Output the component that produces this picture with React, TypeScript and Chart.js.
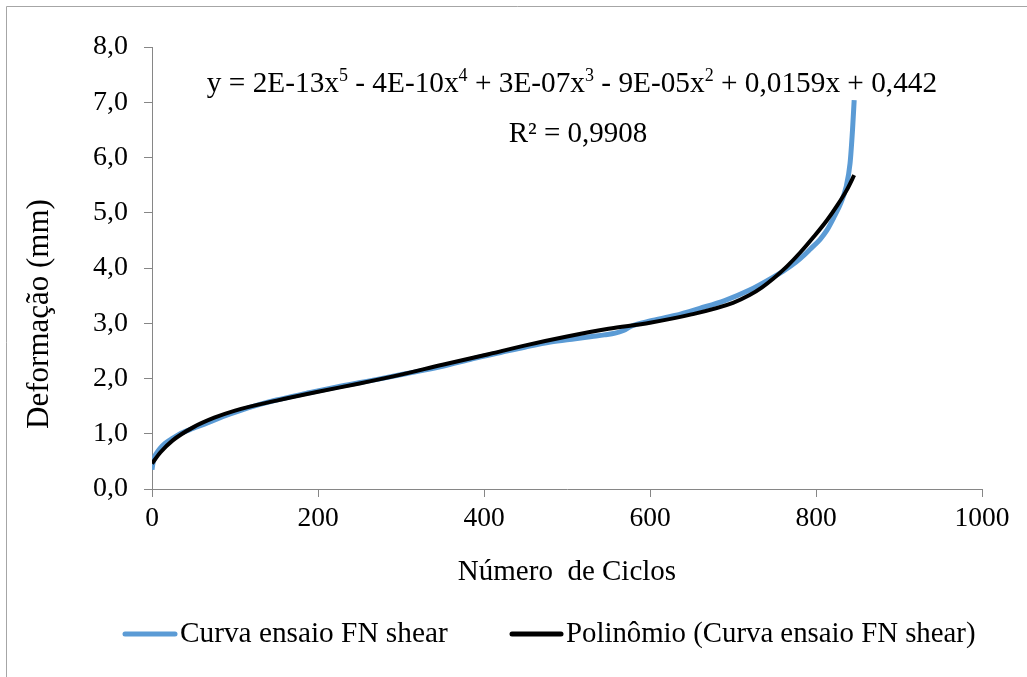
import React, { useEffect, useRef } from "react";
import { Chart, registerables } from "chart.js";

Chart.register(...registerables);

// ---- data ----
const curveCycles = [0, 1, 3, 6, 10, 16, 25, 35, 50, 66, 85, 106, 130, 150, 186, 227, 270, 307, 350, 387, 420, 450, 480, 510, 530, 545, 558, 568, 578, 600, 630, 660, 690, 720, 748, 760, 770, 781, 793, 805, 813, 821, 830, 836, 841, 844, 846];
const curveDeform = [0.35, 0.45, 0.58, 0.66, 0.74, 0.83, 0.92, 1.01, 1.10, 1.19, 1.31, 1.42, 1.53, 1.61, 1.73, 1.86, 1.98, 2.09, 2.22, 2.36, 2.47, 2.57, 2.66, 2.72, 2.76, 2.79, 2.82, 2.87, 2.95, 3.04, 3.14, 3.27, 3.41, 3.60, 3.83, 3.94, 4.04, 4.17, 4.34, 4.52, 4.68, 4.9, 5.18, 5.45, 5.89, 6.5, 7.04];

const polyCycles = [0, 10, 25, 50, 75, 100, 150, 200, 250, 300, 350, 400, 450, 500, 550, 600, 650, 700, 720, 735, 748, 765, 781, 797, 813, 825, 837, 846];
const polyDeform = [0.46, 0.66, 0.88, 1.12, 1.29, 1.42, 1.6, 1.76, 1.91, 2.07, 2.25, 2.42, 2.6, 2.76, 2.9, 3.01, 3.16, 3.37, 3.51, 3.65, 3.8, 4.03, 4.28, 4.56, 4.86, 5.12, 5.41, 5.68];

const xTickLabels = ["0", "200", "400", "600", "800", "1000"];
const seriesLabels = ["Curva ensaio FN shear", "Polinômio (Curva ensaio FN shear)"];
const seriesColors = ["#5B9BD5", "#000000"];
const xTitle = "Número  de Ciclos";
const yTitle = "Deformação (mm)";
const equationParts: [string, boolean][] = [
  ["y = 2E-13x", false], ["5", true], [" - 4E-10x", false], ["4", true],
  [" + 3E-07x", false], ["3", true], [" - 9E-05x", false], ["2", true],
  [" + 0,0159x + 0,442", false],
];
const r2Text = "R² = 0,9908";

const FONT = "'Liberation Serif', 'Times New Roman', serif";

const overlayPlugin = {
  id: "overlay",
  beforeDraw(chart: any) {
    const ctx = chart.ctx;
    ctx.save();
    ctx.strokeStyle = "#a6a6a6";
    ctx.lineWidth = 1;
    ctx.beginPath();
    ctx.moveTo(6.5, 2000);
    ctx.lineTo(6.5, 6.5);
    ctx.lineTo(2000, 6.5);
    ctx.stroke();
    ctx.restore();
  },
  afterDraw(chart: any) {
    const ctx = chart.ctx;
    ctx.save();
    ctx.fillStyle = "#000";
    ctx.textBaseline = "alphabetic";
    // equation
    const base = 29.3;
    const sup = 18;
    let total = 0;
    for (const [t, s] of equationParts) {
      ctx.font = `${s ? sup : base}px ${FONT}`;
      total += ctx.measureText(t).width;
    }
    let x = 572 - total / 2;
    const yb = 92;
    for (const [t, s] of equationParts) {
      ctx.font = `${s ? sup : base}px ${FONT}`;
      ctx.fillText(t, x, s ? yb - 11 : yb);
      x += ctx.measureText(t).width;
    }
    ctx.font = `29px ${FONT}`;
    ctx.textAlign = "center";
    ctx.fillText(r2Text, 578, 142);

    // y axis title
    ctx.save();
    ctx.translate(40, 314);
    ctx.rotate(-Math.PI / 2);
    ctx.textAlign = "center";
    ctx.textBaseline = "middle";
    ctx.font = `31px ${FONT}`;
    ctx.fillText(yTitle, 0, 0);
    ctx.restore();

    // legend
    const ly = 634;
    const items = [
      { x0: 123, x1: 177, tx: 180 },
      { x0: 510, x1: 563, tx: 566 },
    ];
    ctx.textAlign = "left";
    ctx.textBaseline = "middle";
    items.forEach((it, i) => {
      ctx.font = `${i === 0 ? 29.3 : 28.8}px ${FONT}`;
      ctx.strokeStyle = seriesColors[i];
      ctx.lineWidth = 5;
      ctx.lineCap = "round";
      ctx.beginPath();
      ctx.moveTo(it.x0 + 2, ly);
      ctx.lineTo(it.x1 - 2, ly);
      ctx.stroke();
      ctx.fillText(seriesLabels[i], it.tx, ly);
    });
    ctx.restore();
  },
};

export default function App() {
  const ref = useRef<HTMLCanvasElement | null>(null);
  useEffect(() => {
    if (!ref.current) return;
    const axisColor = "#868686";
    const chart = new Chart(ref.current, {
      type: "line",
      data: {
        datasets: [
          {
            label: seriesLabels[0],
            data: curveCycles.map((c, i) => ({ x: c, y: curveDeform[i] })),
            borderColor: seriesColors[0],
            backgroundColor: seriesColors[0],
            borderWidth: 5,
            pointRadius: 0,
            cubicInterpolationMode: "monotone",
            order: 2,
          },
          {
            label: seriesLabels[1],
            data: polyCycles.map((c, i) => ({ x: c, y: polyDeform[i] })),
            borderColor: seriesColors[1],
            backgroundColor: seriesColors[1],
            borderWidth: 4,
            pointRadius: 0,
            cubicInterpolationMode: "monotone",
            order: 1,
          },
        ],
      },
      options: {
        animation: false,
        responsive: true,
        maintainAspectRatio: false,
        layout: { padding: { left: 0, top: 47, right: 45, bottom: 87 } },
        plugins: { legend: { display: false }, tooltip: { enabled: false } },
        scales: {
          x: {
            type: "linear",
            min: 0,
            max: 1000,
            ticks: {
              stepSize: 200,
              color: "#000",
              font: { family: FONT, size: 27.5 },
              padding: 5,
              maxRotation: 0,
              callback: (_v: any, i: number) => xTickLabels[i],
            },
            grid: { drawOnChartArea: false, drawTicks: true, tickLength: 8, color: axisColor },
            border: { color: axisColor, width: 1 },
            title: { display: true, text: xTitle, color: "#000", font: { family: FONT, size: 29 }, padding: 0 },
            afterFit: (s: any) => { s.height = 101; },
          },
          y: {
            min: 0,
            max: 8,
            ticks: {
              stepSize: 1,
              color: "#000",
              font: { family: FONT, size: 28 },
              padding: 16,
              callback: (v: any) => Number(v).toFixed(1).replace(".", ","),
            },
            grid: { drawOnChartArea: false, drawTicks: true, tickLength: 8, color: axisColor },
            border: { color: axisColor, width: 1 },
            title: { display: false },
            afterFit: (s: any) => { s.width = 152; },
          },
        },
      },
      plugins: [overlayPlugin],
    } as any);
    return () => chart.destroy();
  }, []);
  return (
    <div style={{ position: "fixed", left: 0, top: 0, width: 1027, height: 677, background: "#fff" }}>
      <canvas ref={ref} />
    </div>
  );
}
